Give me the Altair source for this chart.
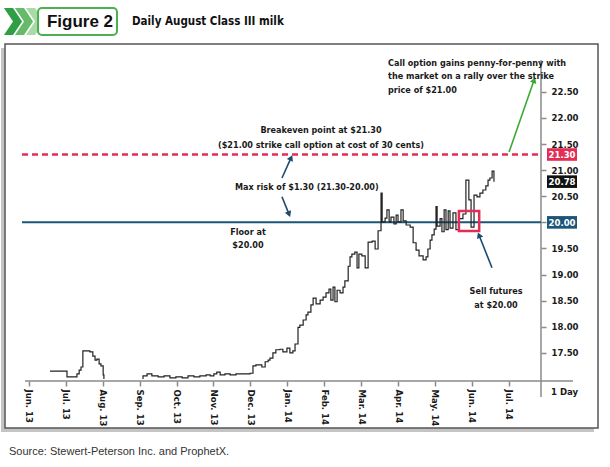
import math
import altair as alt
import pandas as pd

# Daily August Class III milk futures, step series.
# month_pos: position in months from the start of Jun. 2013 (trading-day axis)
month_pos = [
    0.57, 1.03, 1.30, 1.36, 1.41, 1.46, 1.65, 1.73, 1.79, 1.84, 1.90, 1.95, 2.01, 2.03,
    3.07, 3.09, 3.20, 3.33, 3.50, 3.66, 3.82, 3.98, 4.15, 4.31, 4.47, 4.63, 4.80, 4.91,
    5.01, 5.09, 5.18, 5.31, 5.45, 5.61, 5.80, 5.99, 6.07, 6.15, 6.26, 6.31, 6.40, 6.48,
    6.53, 6.61, 6.69, 6.80, 6.88, 6.99, 7.07, 7.15, 7.21, 7.29, 7.34, 7.43, 7.51, 7.56,
    7.64, 7.70, 7.78, 7.89, 7.97, 8.05, 8.13, 8.18, 8.24, 8.29, 8.35, 8.43, 8.51, 8.56,
    8.65, 8.70, 8.75, 8.83, 8.89, 8.94, 9.02, 9.11, 9.19, 9.30, 9.38, 9.46, 9.54, 9.57,
    9.65, 9.70, 9.76, 9.81, 9.89, 9.95, 10.00, 10.08, 10.14, 10.22, 10.33, 10.41, 10.49,
    10.57, 10.68, 10.76, 10.81, 10.87, 10.92, 10.98, 11.03, 11.06, 11.14, 11.19, 11.25,
    11.30, 11.36, 11.41, 11.49, 11.57, 11.65, 11.76, 11.84, 11.92, 11.98, 12.06, 12.14,
    12.22, 12.30, 12.38, 12.44, 12.49, 12.55, 12.60,
]
price = [
    17.15, 17.04, 17.10, 17.17, 17.23, 17.54, 17.52, 17.44, 17.36, 17.38, 17.29, 17.25, 17.08, 16.80,
    16.80, 17.06, 17.10, 17.06, 17.04, 17.06, 17.02, 17.04, 17.02, 17.06, 17.04, 17.06, 17.08, 17.06,
    17.10, 17.13, 17.08, 17.10, 17.08, 17.10, 17.10, 17.11, 17.25, 17.27, 17.27, 17.23, 17.33, 17.36,
    17.40, 17.50, 17.56, 17.57, 17.52, 17.59, 17.50, 17.54, 17.67, 17.99, 18.03, 18.13, 18.23, 18.28,
    18.42, 18.55, 18.44, 18.51, 18.57, 18.65, 18.72, 18.51, 18.76, 18.48, 18.70, 18.65, 18.76, 18.88,
    19.16, 19.34, 19.39, 19.43, 19.13, 19.39, 19.36, 19.13, 19.62, 19.64, 19.49, 19.84, 20.56, 20.01,
    20.08, 20.24, 20.01, 20.10, 19.97, 20.14, 20.01, 20.24, 20.03, 19.95, 19.91, 19.61, 19.47,
    19.36, 19.28, 19.34, 19.49, 19.66, 19.76, 19.87, 20.30, 19.93, 20.07, 19.82, 20.24,
    19.86, 20.22, 19.89, 20.18, 19.86, 20.07, 20.16, 20.81, 20.43, 19.91, 20.52, 20.49,
    20.56, 20.62, 20.70, 20.81, 20.85, 20.98, 20.78,
]

month_labels = ["Jun. 13", "Jul. 13", "Aug. 13", "Sep. 13", "Oct. 13", "Nov. 13", "Dec. 13",
                "Jan. 14", "Feb. 14", "Mar. 14", "Apr. 14", "May. 14", "Jun. 14", "Jul. 14"]
price_ticks = [17.5, 18.0, 18.5, 19.0, 19.5, 20.0, 20.5, 21.0, 21.5, 22.0, 22.5]

floor_price = 20.00
breakeven_price = 21.30
last_price = 20.78

# Plot geometry
W, H = 516, 319
X_DOM = [-0.108, 13.875]
Y_DOM = [17.0, 23.11]
PX_X = W / (X_DOM[1] - X_DOM[0])
PX_Y = H / (Y_DOM[1] - Y_DOM[0])

NARROW = "'Liberation Sans Narrow', 'DejaVu Sans Condensed', 'Roboto Condensed', Roboto, sans-serif"
SANS = "'Liberation Sans', Arial, sans-serif"
INK = "#1a1a1a"
AXIS_GRAY = "#8a8a8a"
RED = "#e42c54"
BLUE = "#1b5577"
NAVY = "#1d4b6e"
GREEN = "#3aaa35"
NOTE_SIZE = 9
AXIS_SIZE = 9.5

xs = alt.Scale(domain=X_DOM, nice=False, zero=False)
ys = alt.Scale(domain=Y_DOM, nice=False, zero=False)

label_expr = "[" + ",".join(f"'{s}'" for s in month_labels) + "][datum.value]"
x_axis = alt.Axis(
    values=list(range(len(month_labels))), labelExpr=label_expr, title=None, domain=False,
    grid=False, tickColor=AXIS_GRAY, tickSize=5, tickWidth=1.5, offset=2,
    labelAngle=90, labelAlign="left", labelBaseline="middle", labelFont=NARROW,
    labelFontWeight="bold", labelFontSize=AXIS_SIZE, labelColor=INK, labelPadding=3,
    labelOverlap=False, labelFlush=False)
# the floor level carries its own tag, so its axis label is left blank
y_axis = alt.Axis(
    orient="right", values=price_ticks, title=None, domain=False, grid=False,
    labelExpr=f"datum.value == {floor_price} ? '' : format(datum.value, '.2f')",
    tickColor=AXIS_GRAY, tickSize=5, tickWidth=1.5, labelFont=NARROW, labelFontWeight="bold",
    labelFontSize=AXIS_SIZE, labelColor=INK, labelPadding=5, labelAlign="left",
    labelBaseline="middle", labelOverlap=False, labelFlush=False)

one = pd.DataFrame({"k": [0]})


def X(field):
    return alt.X(field, type="quantitative", scale=xs, axis=x_axis)


def Y(field):
    return alt.Y(field, type="quantitative", scale=ys, axis=y_axis)


# ---- frame (drop shadow on left and bottom) and header ----
shadow_left = alt.Chart(one).mark_rect(fill="#c4c4c4").encode(
    x=alt.value(-24), x2=alt.value(-20), y=alt.value(-12), y2=alt.value(372))
shadow_bottom = alt.Chart(one).mark_rect(fill="#c4c4c4").encode(
    x=alt.value(-24), x2=alt.value(569), y=alt.value(368), y2=alt.value(372))
frame = alt.Chart(one).mark_rect(fill=None, stroke="#555555", strokeWidth=1.5).encode(
    x=alt.value(-20), x2=alt.value(573), y=alt.value(-16), y2=alt.value(368))

chevron_path = "M-0.67,-1 L0,-1 L0.67,0 L0,1 L-0.67,1 L0,0 Z"
chev_df = pd.DataFrame({"cx": [-12, -1, 10], "c": ["#2f9e44", "#66bb6a", "#a9dba6"]})
chevrons = alt.Chart(chev_df).mark_point(shape=chevron_path, size=729, filled=True, opacity=1).encode(
    x=alt.X("cx:Q", scale=None), y=alt.value(-38.5), color=alt.Color("c:N", scale=None))
badge = alt.Chart(one).mark_rect(fill="white", stroke="#4caf50", strokeWidth=2, cornerRadius=4).encode(
    x=alt.value(13), x2=alt.value(92), y=alt.value(-52), y2=alt.value(-25))
badge_text = alt.Chart(one).mark_text(text="Figure 2", font=SANS, fontWeight="bold", fontSize=17,
                                      color="#111", align="center", baseline="middle").encode(
    x=alt.value(55), y=alt.value(-38))
title = alt.Chart(one).mark_text(text="Daily August Class III milk", font=NARROW, fontWeight="bold",
                                 fontSize=11.5, color="#111", align="left", baseline="middle").encode(
    x=alt.value(107), y=alt.value(-38))
source = alt.Chart(one).mark_text(text="Source: Stewert-Peterson Inc. and ProphetX.", font=SANS,
                                  fontSize=11, color="#333", align="left", baseline="middle").encode(
    x=alt.value(-16), y=alt.value(392))

# ---- axis lines ----
x_axis_line = alt.Chart(one).mark_rule(color=AXIS_GRAY, strokeWidth=1.5).encode(
    x=alt.value(0), x2=alt.value(548), y=alt.value(H + 2))
y_axis_line = alt.Chart(one).mark_rule(color=AXIS_GRAY, strokeWidth=1.5).encode(
    x=alt.value(W), y=alt.value(0), y2=alt.value(H + 18))
one_day = alt.Chart(one).mark_text(text="1 Day", font=NARROW, fontWeight="bold", fontSize=AXIS_SIZE,
                                   color=INK, align="left", baseline="middle").encode(
    x=alt.value(526), y=alt.value(332))

# ---- price series ----
series = pd.DataFrame({"m": month_pos, "p": price})
line = alt.Chart(series).mark_line(interpolate="step-after", color="#222", strokeWidth=1.2, clip=True).encode(
    x=X("m"), y=Y("p"))

# ---- reference levels ----
lvl = pd.DataFrame({"x0": [-0.19], "x1": [X_DOM[1]]})
breakeven_rule = alt.Chart(lvl.assign(y=breakeven_price)).mark_rule(
    color=RED, strokeWidth=2.5, strokeDash=[6, 4]).encode(x=X("x0"), x2="x1", y=Y("y"))
floor_rule = alt.Chart(lvl.assign(y=floor_price)).mark_rule(color=BLUE, strokeWidth=2).encode(
    x=X("x0"), x2="x1", y=Y("y"))

# value tags on the price axis
tag_path = "M-1,-0.42 L1,-0.42 L1,0.42 L-1,0.42 Z"
tags = pd.DataFrame({
    "v": [breakeven_price, last_price, floor_price],
    "c": [RED, "#111111", BLUE],
})
tags["t"] = tags["v"].map(lambda v: f"{v:.2f}")
tag_bg = alt.Chart(tags).mark_point(shape=tag_path, size=900, filled=True, opacity=1).encode(
    x=alt.value(537), y=Y("v"), color=alt.Color("c:N", scale=None))
tag_text = alt.Chart(tags).mark_text(font=NARROW, fontWeight="bold", fontSize=AXIS_SIZE, color="white",
                                     align="center", baseline="middle", dy=0.5).encode(
    x=alt.value(537), y=Y("v"), text="t:N")

# sell-point box
sell_box = alt.Chart(pd.DataFrame({"x0": [11.65], "x1": [12.20], "y0": [19.835], "y1": [20.218]})).mark_rect(
    fill=None, stroke=RED, strokeWidth=2.5).encode(x=X("x0"), x2="x1", y=Y("y0"), y2="y1")

# ---- arrows ----
arrows = pd.DataFrame({
    "x0": [13.01, 6.856, 6.856, 12.547],
    "y0": [21.35, 20.85, 20.49, 19.13],
    "x1": [13.71, 7.13, 7.073, 12.17],
    "y1": [22.77, 21.28, 20.11, 19.80],
    "c": [GREEN, NAVY, NAVY, NAVY],
})
dxp = (arrows["x1"] - arrows["x0"]) * PX_X
dyp = (arrows["y1"] - arrows["y0"]) * PX_Y
length = (dxp ** 2 + dyp ** 2) ** 0.5
arrows["ang"] = [(math.degrees(math.atan2(a, b)) + 360) % 360 for a, b in zip(dxp, dyp)]
arrows["hx"] = arrows["x1"] - (dxp / length * 2.5) / PX_X
arrows["hy"] = arrows["y1"] - (dyp / length * 2.5) / PX_Y
arrows["sx"] = arrows["x1"] - (dxp / length * 4) / PX_X
arrows["sy"] = arrows["y1"] - (dyp / length * 4) / PX_Y
shafts = alt.Chart(arrows).mark_rule(strokeWidth=1.6).encode(
    x=X("x0"), y=Y("y0"), x2="sx", y2="sy", color=alt.Color("c:N", scale=None))
heads = alt.Chart(arrows).mark_point(shape="triangle-up", size=45, filled=True, opacity=1).encode(
    x=X("hx"), y=Y("hy"), angle=alt.Angle("ang:Q", scale=None), color=alt.Color("c:N", scale=None))

# ---- annotation text ----
left_notes = pd.DataFrame({
    "x": [9.729, 9.729, 9.729, 5.583],
    "y": [23.054, 22.795, 22.536, 20.678],
    "t": ["Call option gains penny-for-penny with", "the market on a rally over the strike",
          "price of $21.00", "Max risk of $1.30 (21.30-20.00)"],
})
center_notes = pd.DataFrame({
    "x": [7.913, 7.913, 5.935, 5.935, 12.656, 12.656],
    "y": [21.770, 21.483, 19.816, 19.567, 18.686, 18.418],
    "t": ["Breakeven point at $21.30", "($21.00 strike call option at cost of 30 cents)",
          "Floor at", "$20.00", "Sell futures", "at $20.00"],
})


def notes(df, align):
    return alt.Chart(df).mark_text(align=align, baseline="middle", font=NARROW, fontWeight="bold",
                                   fontSize=NOTE_SIZE, color=INK).encode(x=X("x"), y=Y("y"), text="t:N")


chart = alt.layer(
    shadow_left, shadow_bottom, frame, chevrons, badge, badge_text, title, source,
    x_axis_line, y_axis_line, one_day,
    breakeven_rule, floor_rule, line, sell_box, shafts, heads,
    tag_bg, tag_text, notes(left_notes, "left"), notes(center_notes, "center"),
).properties(
    width=W, height=H,
    autosize=alt.AutoSizeParams(type="none"),
    padding={"left": 25, "top": 60, "right": 69, "bottom": 88},
    background="white",
).configure_view(stroke=None)

chart.save("out.html", embed_options={"renderer": "svg", "actions": False})
